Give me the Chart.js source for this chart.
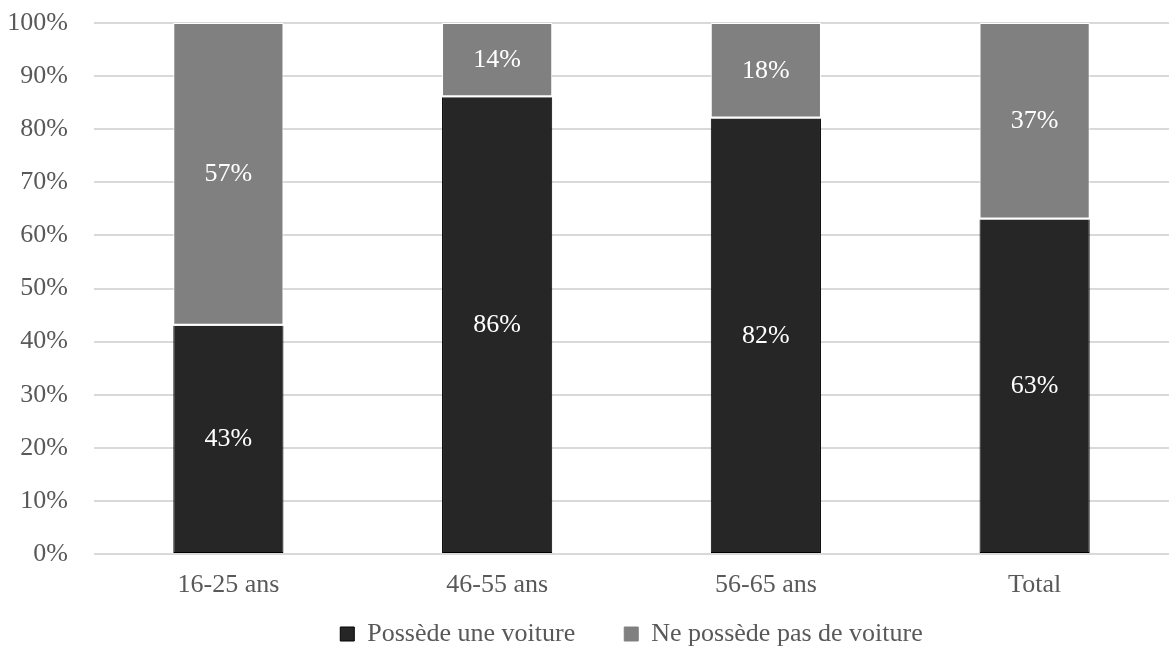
<!DOCTYPE html>
<html>
<head>
<meta charset="utf-8">
<script src="https://cdn.jsdelivr.net/npm/chart.js@4/dist/chart.umd.min.js"></script>
<style>
  html, body { margin: 0; padding: 0; background: #fff; }
  #chart { display: block; }
</style>
</head>
<body>
<canvas id="chart" width="1169" height="650"></canvas>
<script>
// Possession d'une voiture par tranche d'âge
const categories = ['16-25 ans', '46-55 ans', '56-65 ans', 'Total'];
const possede    = [43, 86, 82, 63];
const nePossede  = [57, 14, 18, 37];
const seriesNames = ['Possède une voiture', 'Ne possède pas de voiture'];

const FONT = "'Liberation Serif', 'Times New Roman', serif";
const SIZE = 26;

// simple inline value labels, drawn at each bar's centre
const barLabels = {
  id: 'barLabels',
  afterDatasetsDraw(chart) {
    const ctx = chart.ctx;
    ctx.save();
    ctx.font = `${SIZE}px ${FONT}`;
    ctx.fillStyle = '#ffffff';
    ctx.textAlign = 'center';
    ctx.textBaseline = 'middle';
    chart.data.datasets.forEach((ds, i) => {
      chart.getDatasetMeta(i).data.forEach((bar, j) => {
        const { x, y, base } = bar.getProps(['x', 'y', 'base'], true);
        ctx.fillText(ds.data[j] + '%', x, (y + base) / 2);
      });
    });
    ctx.restore();
  }
};

new Chart(document.getElementById('chart'), {
  type: 'bar',
  data: {
    labels: categories,
    datasets: [
      {
        label: seriesNames[0], data: possede,
        backgroundColor: '#262626', borderColor: '#000000',
        borderWidth: { left: 1, right: 1, bottom: 1, top: 0 }, borderSkipped: false,
        barPercentage: 0.41, categoryPercentage: 1
      },
      {
        label: seriesNames[1], data: nePossede,
        backgroundColor: '#808080', borderColor: '#ffffff',
        borderWidth: { left: 1, right: 1, top: 1, bottom: 2 }, borderSkipped: false,
        barPercentage: 0.41, categoryPercentage: 1
      }
    ]
  },
  options: {
    responsive: false,
    animation: false,
    layout: { padding: { top: 0, right: 0, left: 0, bottom: -7 } },
    scales: {
      x: {
        stacked: true,
        grid: { display: false, drawTicks: false },
        border: { display: false },
        ticks: { color: '#595959', font: { family: FONT, size: SIZE }, padding: 16 },
        afterFit: s => { s.height = 57; s.paddingLeft = 0; s.paddingRight = 0; }
      },
      y: {
        stacked: true, min: 0, max: 100,
        grid: { color: '#d9d9d9', lineWidth: 2, drawTicks: false },
        border: { display: false },
        ticks: {
          stepSize: 10, color: '#595959', font: { family: FONT, size: SIZE }, padding: 26,
          callback: v => v + '%'
        },
        afterFit: s => { s.width = 94; s.paddingTop = 23; }
      }
    },
    plugins: {
      legend: {
        position: 'bottom',
        fullSize: false,
        labels: {
          color: '#595959', font: { family: FONT, size: SIZE },
          boxWidth: 14, boxHeight: 14, padding: 10,
          // wider gap after the first entry, as in the original legend
          generateLabels: chart => chart.data.datasets.map((ds, i) => ({
            text: ds.label + (i === 0 ? '\u00a0'.repeat(6) : ''),
            fillStyle: ds.backgroundColor,
            strokeStyle: i === 0 ? '#000000' : '#808080', lineWidth: 1,
            fontColor: '#595959', datasetIndex: i
          }))
        }
      },
      tooltip: { enabled: false }
    }
  },
  plugins: [barLabels]
});
</script>
</body>
</html>
